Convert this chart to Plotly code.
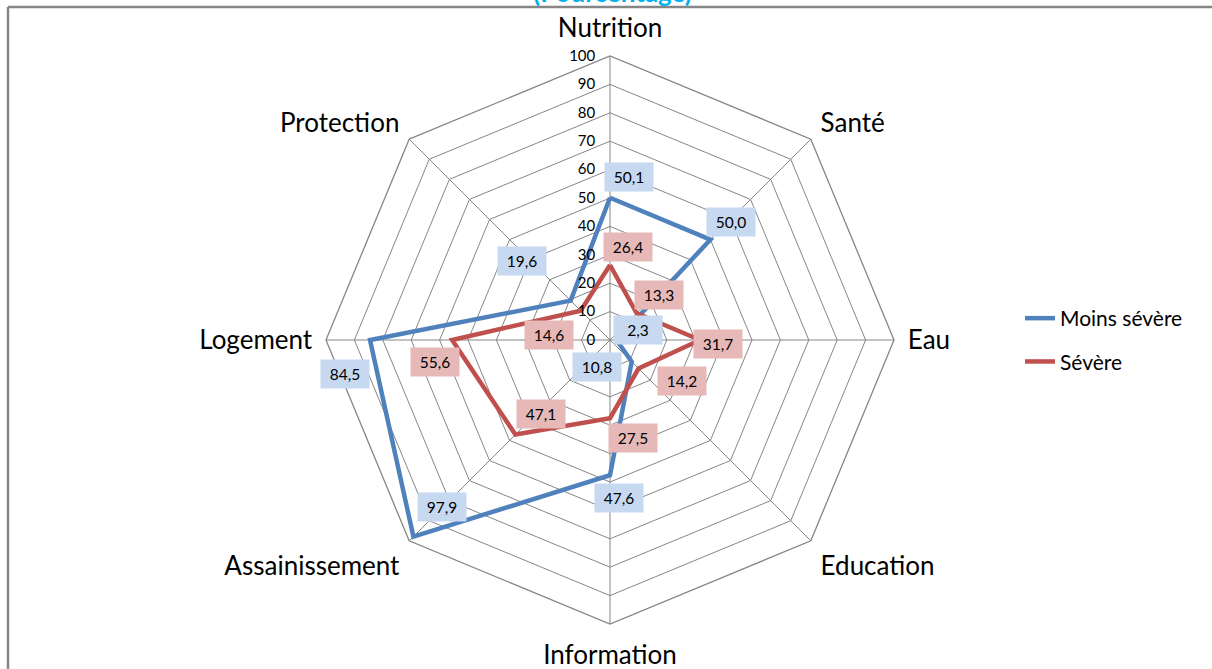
import numpy as np
import plotly.graph_objects as go

# ---- data ----
categories = ["Nutrition", "Santé", "Eau", "Education", "Information",
              "Assainissement", "Logement", "Protection"]
moins_severe = [50.1, 50.0, 2.3, 10.8, 47.6, 97.9, 84.5, 19.6]
severe = [26.4, 13.3, 31.7, 14.2, 27.5, 47.1, 55.6, 14.6]
radial_ticks = list(range(0, 101, 10))
title_text = "(Pourcentage)"

# ---- label offsets in pixels (dx right, dy down) ----
off_moins = [(19, -21), (21, -18), (21, -10), (-35, 5), (9, 23), (29, -30), (-25, 34), (-49, -40)]
off_sev = [(18, -18), (22, -18), (18, 4), (43, 12), (23, 20), (26, -21), (-17, 22), (-32, 24)]

W, H = 1212, 669
cx, cy, R = 610, 340, 284
dom_x = [(cx - R) / W, (cx + R) / W]
dom_y = [(H - cy - R) / H, (H - cy + R) / H]

FONT = "Lato"
BLUE = "#4F81BD"
RED = "#C0504D"
GRID = "#868686"

fig = go.Figure()
fig.add_trace(go.Scatterpolar(
    r=moins_severe + moins_severe[:1], theta=categories + categories[:1],
    mode="lines", name="Moins sévère", line=dict(color=BLUE, width=4.5),
    legendgroup="a", hoverinfo="skip"))
fig.add_trace(go.Scatterpolar(
    r=severe + severe[:1], theta=categories + categories[:1],
    mode="lines", name="Sévère", line=dict(color=RED, width=4.5),
    legendgroup="b", hoverinfo="skip"))
# invisible cartesian overlay used to place data labels
fig.add_trace(go.Scatter(x=[0], y=[0], mode="markers", marker=dict(opacity=0),
                         showlegend=False, hoverinfo="skip", xaxis="x", yaxis="y"))

annotations = []
n = len(categories)
angles = np.deg2rad(np.arange(n) * 360.0 / n)
for vals, offs, bg in [(moins_severe, off_moins, "#C6D9F1"), (severe, off_sev, "#E6B9B8")]:
    for v, a, (dx, dy) in zip(vals, angles, offs):
        annotations.append(dict(
            x=v * np.sin(a), y=v * np.cos(a), xref="x", yref="y",
            text=f"{v:.1f}".replace(".", ","), showarrow=False,
            xshift=dx, yshift=-dy, bgcolor=bg, width=40, height=20, borderpad=4,
            font=dict(family=FONT, size=15.5, color="#000000")))

annotations.append(dict(
    x=612 / W, y=1, xref="paper", yref="paper", yanchor="middle", yshift=8,
    text=f"<b>{title_text}</b>", showarrow=False,
    font=dict(family=FONT, size=26, color="#00B0F0")))

fig.update_layout(
    width=W, height=H,
    margin=dict(l=0, r=0, t=0, b=0),
    paper_bgcolor="white", plot_bgcolor="rgba(0,0,0,0)",
    font=dict(family=FONT, color="#000000"),
    polar=dict(
        domain=dict(x=dom_x, y=dom_y),
        gridshape="linear",
        bgcolor="rgba(0,0,0,0)",
        radialaxis=dict(range=[0, 100], tickvals=radial_ticks, angle=90, tickangle=90,
                        side="counterclockwise", showline=False,
                        ticks="outside", ticklen=9, tickcolor="rgba(0,0,0,0)",
                        gridcolor=GRID, gridwidth=1.3,
                        tickfont=dict(family=FONT, size=15, color="#000000")),
        angularaxis=dict(direction="clockwise", rotation=90, showline=True,
                         linecolor=GRID, linewidth=1.3, gridcolor=GRID, gridwidth=1.3,
                         ticks="outside", ticklen=8, tickcolor="rgba(0,0,0,0)",
                         tickfont=dict(family=FONT, size=26, color="#000000")),
    ),
    xaxis=dict(domain=dom_x, range=[-100, 100], visible=False, fixedrange=True),
    yaxis=dict(domain=dom_y, range=[-100, 100], visible=False, fixedrange=True),
    legend=dict(x=1020 / W, y=(H - 298) / H, xanchor="left", yanchor="top",
                font=dict(family=FONT, size=21, color="#000000"),
                traceorder="grouped", tracegroupgap=13, bgcolor="rgba(0,0,0,0)"),
    annotations=annotations,
    shapes=[
        dict(type="line", xref="paper", yref="paper", x0=8 / W, x1=1, y0=1 - 7 / H, y1=1 - 7 / H,
             line=dict(color=GRID, width=2.5)),
        dict(type="line", xref="paper", yref="paper", x0=8 / W, x1=8 / W, y0=0, y1=1 - 7 / H,
             line=dict(color=GRID, width=2.5)),
    ],
    showlegend=True,
)

fig.write_html("out.html", config={"displayModeBar": False},
               post_script="document.body.style.margin='0';")
